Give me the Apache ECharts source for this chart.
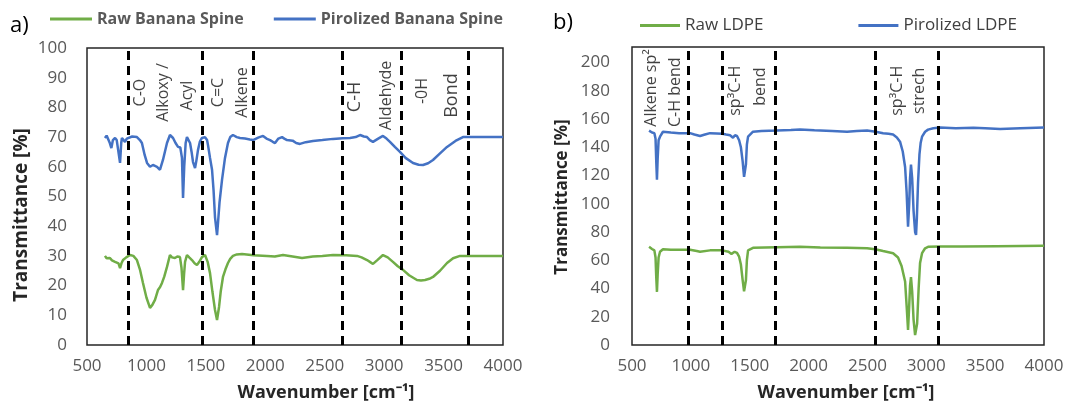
<!DOCTYPE html>
<html>
<head>
<meta charset="utf-8">
<title>FTIR spectra</title>
<script src="https://cdn.jsdelivr.net/npm/echarts@6/dist/echarts.min.js"></script>
<style>
  html, body { margin: 0; padding: 0; background: #fff; }
  #chart { width: 1069px; height: 405px; }
</style>
</head>
<body>
<div id="chart"></div>
<script>
// [wavenumber, transmittance]
const rawBanana = [[651,30],[665,29.2],[680,29.8],[693,29.3],[710,28.5],[725,29],[736,28],[750,28.5],[765,27.5],[778,25.9],[790,27.5],[803,28.6],[830,29.5],[862,30.3],[890,30],[920,28.6],[945,25.5],[971,20.9],[1000,16],[1030,12.5],[1050,13.5],[1072,15.2],[1097,18.5],[1115,19.5],[1131,20.9],[1150,23],[1173,26.3],[1198,30.3],[1215,29.5],[1240,29.3],[1260,29.8],[1282,29.6],[1295,26],[1308,18.5],[1317,24],[1325,28],[1341,30.3],[1360,29.5],[1383,28.6],[1405,27.5],[1425,26.9],[1445,28],[1467,29.6],[1493,30.3],[1515,28],[1535,24.2],[1555,18],[1577,11.8],[1594,8.4],[1611,12.8],[1625,18],[1644,22.9],[1665,25.5],[1686,27.6],[1705,29],[1728,30],[1760,30.5],[1804,30.6],[1900,30.2],[2014,30],[2080,29.8],[2149,30.3],[2230,29.8],[2309,29.3],[2400,29.8],[2480,30],[2570,30.3],[2680,30.2],[2772,30],[2810,29.5],[2856,28.6],[2880,28],[2906,27.3],[2940,28.5],[2990,30.3],[3030,29.5],[3074,28],[3115,26.5],[3159,25.3],[3210,23.5],[3276,21.9],[3310,21.7],[3344,21.9],[3380,22.3],[3411,22.9],[3470,25],[3529,27.6],[3580,29.2],[3638,30],[3750,30],[3850,30],[4000,30]];

const pyroBanana = [[651,69.7],[665,70.5],[677,70.7],[692,68],[705,66.3],[718,69],[736,69.7],[750,69],[765,68.5],[778,61.3],[788,68],[794,69.7],[808,69.5],[820,68.4],[835,69.5],[845,70],[880,70.2],[920,70],[945,69],[962,68],[985,64],[1005,61.3],[1030,60],[1055,60.6],[1072,60.3],[1089,60],[1100,60.5],[1114,59],[1125,60.5],[1139,62.3],[1155,65],[1173,68],[1198,70.7],[1224,69.7],[1245,68],[1266,66.7],[1285,66.5],[1299,63],[1308,49.5],[1318,60],[1330,68],[1341,70],[1355,69.5],[1367,68],[1380,65],[1392,61.6],[1409,59.6],[1420,62],[1434,65.7],[1450,68.5],[1467,69.7],[1493,70],[1510,69],[1518,67.3],[1535,63],[1552,59],[1565,52],[1577,43],[1594,37],[1602,41],[1615,48],[1636,55.6],[1661,63],[1686,68],[1705,70],[1728,70.7],[1760,70],[1787,69.7],[1830,69.5],[1870,69.2],[1897,69],[1940,69.8],[1981,70.4],[2010,69.5],[2040,69],[2060,68.5],[2082,68],[2110,69.5],[2141,70],[2160,69.5],[2183,69],[2230,68.8],[2260,68],[2292,67.7],[2340,68.3],[2401,68.7],[2480,69],[2570,69.4],[2650,69.6],[2713,69.7],[2760,70],[2797,70.7],[2830,70.2],[2856,70],[2880,69],[2906,68.4],[2950,69.5],[2990,70.4],[3020,69.5],[3049,68.4],[3090,66.7],[3133,65],[3180,63],[3243,61.3],[3290,60.7],[3327,60.6],[3370,61.2],[3411,62.3],[3470,64.5],[3529,66.7],[3600,68.7],[3663,70],[3750,70],[3832,70],[3920,70],[4000,70]];

const rawLdpe = [[645,69.5],[670,68],[690,67],[700,62],[706,48],[712,37.6],[718,50],[726,62],[738,66],[763,67.8],[830,67.5],[900,67.5],[993,67.4],[1050,66.5],[1078,66],[1163,67],[1265,67],[1320,66],[1345,64.5],[1358,64],[1372,66],[1392,65.2],[1410,62.5],[1425,57],[1440,46],[1452,38],[1460,37.6],[1468,46],[1476,60],[1486,67],[1528,68.8],[1732,69.3],[1927,69.5],[2100,69],[2327,68.8],[2497,68.5],[2565,67.8],[2633,66.5],[2718,65],[2760,62],[2790,56],[2820,45],[2835,25],[2845,10.6],[2855,28],[2862,42],[2870,48],[2880,38],[2892,18],[2905,7],[2915,5.7],[2922,15],[2935,40],[2947,58],[2964,65],[2990,68.5],[3015,69.5],[3117,69.8],[3300,69.8],[3600,70],[4000,70.2]];

const pyroLdpe = [[645,151.8],[670,150.5],[690,150],[700,146],[706,130],[712,117],[718,132],[726,145],[738,147.5],[763,151],[830,150.5],[900,150],[993,150],[1030,149],[1078,148],[1120,149],[1163,150],[1220,149.8],[1265,149.6],[1300,149],[1333,148.5],[1345,147.5],[1358,146.8],[1375,148.5],[1392,148],[1410,145],[1425,140],[1440,130],[1452,119],[1460,118.4],[1468,128],[1476,142],[1486,147.5],[1528,151],[1600,151.5],[1732,151.8],[1850,152.2],[1927,152.5],[2050,152],[2200,151.5],[2327,151],[2410,151.5],[2497,151.8],[2570,151],[2633,150],[2680,149.5],[2718,149],[2750,147],[2777,144],[2800,137],[2820,126],[2833,108],[2845,83.7],[2855,100],[2862,118],[2870,127.7],[2880,118],[2892,95],[2905,80],[2913,78],[2920,90],[2930,115],[2942,135],[2952,143],[2964,147.5],[2990,151],[3015,152.5],[3060,153.5],[3117,154],[3250,153.5],[3400,153.8],[3500,153.5],[3627,153],[3800,153.5],[4000,154]];

// dashed band borders
const bandsBanana = [850, 1470, 1900, 2650, 3140, 3710];
const bandsLdpe = [975, 1265, 1720, 2565, 3100];

// band labels: [wavenumber, y, text]
const notesBanana = [[946,85,'C-O'],[1139,85,'Alkoxy /'],[1341,84,'Acyl'],[1602,85,'C=C'],[1804,85,'Alkene'],[2755,83.5,'C-H'],[3016,84,'Aldehyde'],[3318,85.5,'-0H'],[3571,84,'Bond']];
const notesLdpe = [[661,182,'Alkene sp\u00b2'],[865,179,'C-H bend'],[1375,180,'sp\u00b3C-H'],[1588,183,'bend'],[2751,180,'sp\u00b3C-H'],[2938,180,'strech']];
const bigNotes = ['C-H', 'Bond'];

const GREEN = '#70AD47';
const BLUE = '#4472C4';
const FONT = 'Open Sans';
const TICK = '#595959';

const chart = echarts.init(document.getElementById('chart'));

function xAxisFor(idx) {
  return {
    type: 'value', gridIndex: idx, min: 500, max: 4000, interval: 500,
    axisLine: { show: false }, axisTick: { show: false }, splitLine: { show: false },
    axisLabel: { color: TICK, fontFamily: FONT, fontSize: 17, margin: 13, formatter: v => String(v) }
  };
}

function lineSeries(name, data, color, idx, bands) {
  const s = {
    name, type: 'line', data, xAxisIndex: idx, yAxisIndex: idx,
    showSymbol: false, smooth: false, color,
    lineStyle: { color, width: 2.5 }, z: 3
  };
  if (bands) {
    s.markLine = {
      silent: true, symbol: 'none', animation: false,
      label: { show: false },
      lineStyle: { color: '#000', width: 3, type: [9, 6] },
      data: bands.map(v => ({ xAxis: v }))
    };
  }
  return s;
}

function notesSeries(notes, idx, size) {
  return {
    type: 'scatter', xAxisIndex: idx, yAxisIndex: idx, symbolSize: 0, silent: true,
    data: notes.map(n => ({
      value: [n[0], n[1]], name: n[2],
      label: { fontSize: bigNotes.includes(n[2]) && idx === 0 ? 18 : size }
    })),
    label: {
      show: true, position: 'inside', rotate: 90, formatter: p => p.name,
      color: '#111', fontFamily: FONT
    },
    z: 4
  };
}

const option = {
  animation: false,
  textStyle: { fontFamily: FONT },
  grid: [
    { left: 87, right: 566, top: 48, bottom: 60, show: true, borderColor: '#262626', borderWidth: 1.5 },
    { left: 632, right: 25, top: 47, bottom: 60, show: true, borderColor: '#262626', borderWidth: 1.5 }
  ],
  legend: [
    {
      data: ['Raw Banana Spine', 'Pirolized Banana Spine'],
      left: 45, top: 6, icon: 'rect', itemWidth: 42, itemHeight: 3, itemGap: 30,
      textStyle: { color: TICK, fontFamily: FONT, fontSize: 16, fontWeight: 'bold' }
    },
    {
      data: ['Raw LDPE', 'Pirolized LDPE'],
      left: 635, top: 12, icon: 'rect', itemWidth: 40, itemHeight: 3, itemGap: 95,
      textStyle: { color: '#404040', fontFamily: FONT, fontSize: 17 }
    }
  ],
  xAxis: [xAxisFor(0), xAxisFor(1)],
  yAxis: [
    {
      type: 'value', gridIndex: 0, min: 0, max: 100, interval: 10,
      axisLine: { show: false }, axisTick: { show: false }, splitLine: { show: false },
      axisLabel: { color: TICK, fontFamily: FONT, fontSize: 17, margin: 20 }
    },
    {
      type: 'value', gridIndex: 1, min: 0, max: 211, interval: 20,
      axisLine: { show: false }, axisTick: { show: false }, splitLine: { show: false },
      axisLabel: { color: TICK, fontFamily: FONT, fontSize: 17, margin: 22, showMaxLabel: false }
    }
  ],
  series: [
    lineSeries('Raw Banana Spine', rawBanana, GREEN, 0, bandsBanana),
    lineSeries('Pirolized Banana Spine', pyroBanana, BLUE, 0),
    notesSeries(notesBanana, 0, 16),
    lineSeries('Raw LDPE', rawLdpe, GREEN, 1, bandsLdpe),
    lineSeries('Pirolized LDPE', pyroLdpe, BLUE, 1),
    notesSeries(notesLdpe, 1, 16)
  ],
  graphic: [
    { type: 'text', left: 10, top: 15, style: { text: 'a)', font: '22px "Open Sans"', fill: '#000' } },
    { type: 'text', left: 553, top: 12, style: { text: 'b)', font: '22px "Open Sans"', fill: '#000' } },
    { type: 'text', x: 22, y: 215, rotation: Math.PI / 2,
      style: { text: 'Transmittance [%]', font: 'bold 19px "Open Sans"', fill: '#262626', align: 'center', verticalAlign: 'middle' } },
    { type: 'text', x: 562, y: 197, rotation: Math.PI / 2,
      style: { text: 'Transmittance [%]', font: 'bold 17px "Open Sans"', fill: '#262626', align: 'center', verticalAlign: 'middle' } },
    { type: 'text', x: 326, y: 393,
      style: { text: 'Wavenumber [cm\u207b\u00b9]', font: 'bold 18px "Open Sans"', fill: '#262626', align: 'center', verticalAlign: 'middle' } },
    { type: 'text', x: 846, y: 393,
      style: { text: 'Wavenumber [cm\u207b\u00b9]', font: 'bold 18px "Open Sans"', fill: '#262626', align: 'center', verticalAlign: 'middle' } }
  ]
};

chart.setOption(option);
</script>
</body>
</html>
